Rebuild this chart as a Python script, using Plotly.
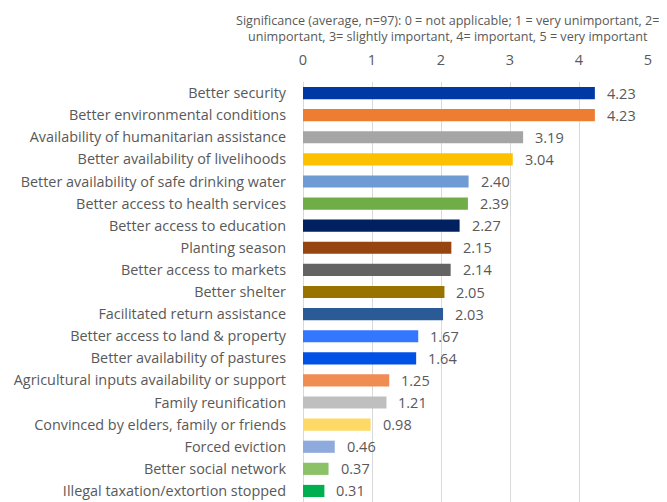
import plotly.graph_objects as go

categories = [
    "Better security",
    "Better environmental conditions",
    "Availability of humanitarian assistance",
    "Better availability of livelihoods",
    "Better availability of safe drinking water",
    "Better access to health services",
    "Better access to education",
    "Planting season",
    "Better access to markets",
    "Better shelter",
    "Facilitated return assistance",
    "Better access to land & property",
    "Better availability of pastures",
    "Agricultural inputs availability or support",
    "Family reunification",
    "Convinced by elders, family or friends",
    "Forced eviction",
    "Better social network",
    "Illegal taxation/extortion stopped",
]
values = [4.23, 4.23, 3.19, 3.04, 2.40, 2.39, 2.27, 2.15, 2.14, 2.05, 2.03,
          1.67, 1.64, 1.25, 1.21, 0.98, 0.46, 0.37, 0.31]
colors = ["#0039a6", "#ed7d31", "#a5a5a5", "#ffc000", "#6f9bd5", "#70ad47",
          "#002060", "#964510", "#636363", "#997300", "#2b5b97", "#3377ff",
          "#0051e6", "#ef8d52", "#bfbfbf", "#ffd966", "#8faadc", "#8cc168",
          "#00b050"]
tick_vals = [0, 1, 2, 3, 4, 5]
title_text = ("Significance (average, n=97): 0 = not applicable; 1 = very unimportant, 2=<br>"
              "unimportant, 3= slightly important, 4= important, 5 = very important")

FONT = "Open Sans, Calibri, sans-serif"
GREY = "#595959"

fig = go.Figure(go.Bar(
    x=values, y=categories, orientation="h",
    marker=dict(color=colors, line=dict(width=0)),
    width=0.55,
))

for c, v in zip(categories, values):
    fig.add_annotation(x=v, y=c, text=f"{v:.2f}", showarrow=False,
                       xanchor="left", xshift=10,
                       font=dict(family=FONT, size=14.5, color=GREY))

fig.add_annotation(xref="paper", yref="paper", x=0.42, y=1, yanchor="bottom",
                   yshift=35, xanchor="center", align="center", showarrow=False,
                   text=title_text, font=dict(family=FONT, size=12.6, color=GREY))

fig.update_layout(
    width=659, height=494,
    margin=dict(l=295, r=19, t=74, b=0, autoexpand=False),
    paper_bgcolor="white", plot_bgcolor="white",
    showlegend=False,
    font=dict(family=FONT, color=GREY),
    xaxis=dict(side="top", range=[0, 5], tickvals=tick_vals, automargin=False,
               showgrid=True, gridcolor="#d9d9d9", gridwidth=1,
               zeroline=True, zerolinecolor="#d9d9d9", zerolinewidth=1,
               tickfont=dict(family=FONT, size=14.5, color=GREY),
               ticks="", ticklabelstandoff=13, fixedrange=True),
    yaxis=dict(range=[18.5, -0.5], automargin=False,
               tickfont=dict(family=FONT, size=14.4, color=GREY),
               ticks="", ticklabelstandoff=16, showgrid=False, fixedrange=True),
)

fig.write_html("out.html")
